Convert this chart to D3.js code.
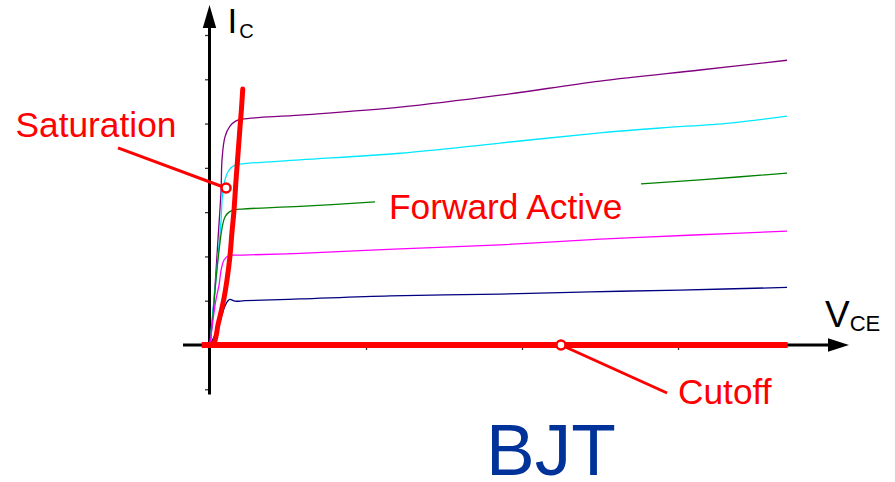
<!DOCTYPE html>
<html>
<head>
<meta charset="utf-8">
<script src="https://cdn.jsdelivr.net/npm/d3@7"></script>
<style>
  html, body { margin: 0; padding: 0; background: #fff; }
  svg { display: block; font-family: "Liberation Sans", Arial, sans-serif; }
</style>
</head>
<body>
<svg id="chart" width="895" height="482"></svg>
<script>
// ---- data (V_CE in arbitrary units, I_C in arbitrary units) ----
const xTicks = [1, 2, 3];
const yTicks = [-1, 1, 2, 3, 4, 5, 6, 7];

const curvePurple = [[0,0],[0.026,1.02],[0.051,2.37],[0.071,3.50],[0.077,4.18],[0.096,4.70],[0.128,4.94],[0.167,5.06],[0.205,5.10],[0.577,5.19],[1.218,5.37],[1.859,5.64],[2.5,5.96],[3.141,6.21],[3.699,6.43]];
const curveCyan = [[0,0],[0.019,0.79],[0.038,1.47],[0.058,2.26],[0.071,2.82],[0.080,3.39],[0.096,3.73],[0.122,3.95],[0.160,4.06],[0.205,4.09],[0.577,4.18],[1.218,4.33],[1.859,4.56],[2.5,4.79],[2.885,4.90],[3.333,5.01],[3.699,5.17]];
const curveGreen = [[0,0],[0.019,0.68],[0.038,1.47],[0.058,2.14],[0.077,2.64],[0.096,2.89],[0.122,3.00],[0.160,3.05],[0.205,3.07],[0.577,3.13],[1.058,3.23],null,[2.763,3.64],[3.141,3.73],[3.699,3.88]];
const curveMagenta = [[0,0],[0.019,0.56],[0.038,1.02],[0.058,1.35],[0.071,1.69],[0.090,1.92],[0.115,2.01],[0.160,2.03],[0.205,2.03],[0.577,2.07],[1.218,2.17],[1.859,2.26],[2.5,2.39],[3.141,2.49],[3.699,2.57]];
const curveNavy = [[0,0],[0.032,0.23],[0.058,0.45],[0.077,0.68],[0.096,0.88],[0.115,1.00],[0.128,1.03],[0.160,0.99],[0.224,1.00],[0.577,1.04],[1.154,1.11],[1.859,1.15],[2.436,1.20],[3.013,1.24],[3.699,1.30]];
const saturationCurve = [[0,0],[0.026,0.05],[0.040,0.22],[0.051,0.45],[0.071,0.75],[0.090,1.06],[0.109,1.47],[0.128,2.01],[0.141,2.55],[0.154,3.05],[0.167,3.73],[0.179,4.29],[0.192,4.90],[0.202,5.35],[0.210,5.78]];
const cutoffLine = [[-0.053,0],[3.703,0]];

const seriesColors = ["#800080", "#00e8ff", "#008000", "#ff00ff", "#000080"];
const seriesData = [curvePurple, curveCyan, curveGreen, curveMagenta, curveNavy];

// annotations: [circle point, pointer end]
const satPointer = [[0.103, 3.545], [-0.59, 4.45]];
const cutPointer = [[2.25, 0], [2.93, -1.084]];

// ---- scales ----
const x = d3.scaleLinear().domain([0, 4]).range([210, 834]);
const y = d3.scaleLinear().domain([0, 7]).range([345, 35]);

const svg = d3.select("#chart");
const RED = "#ff0000";

// ---- axes ----
svg.append("g")
  .attr("transform", `translate(${x(0)},0)`)
  .call(d3.axisLeft(y).tickValues(yTicks).tickSize(5).tickFormat(""))
  .call(g => g.select(".domain").remove())
  .call(g => g.selectAll("line").attr("stroke", "#333").attr("stroke-width", 1.3));

svg.append("g")
  .attr("transform", `translate(0,${y(0)})`)
  .call(d3.axisBottom(x).tickValues(xTicks).tickSize(5).tickFormat(""))
  .call(g => g.select(".domain").remove())
  .call(g => g.selectAll("line").attr("stroke", "#333").attr("stroke-width", 1.3));

// y axis line + arrow
svg.append("line").attr("x1", x(0) - 0.5).attr("x2", x(0) - 0.5)
  .attr("y1", y(-1.12)).attr("y2", 25).attr("stroke", "#000").attr("stroke-width", 3);
svg.append("path")
  .attr("d", `M${x(0)-0.5},5 L${x(0)-7.2},28 L${x(0)+6.2},28 Z`).attr("fill", "#000");

// x axis line + arrow
svg.append("line").attr("x1", 183).attr("x2", 830)
  .attr("y1", y(0)).attr("y2", y(0)).attr("stroke", "#000").attr("stroke-width", 3);
svg.append("path")
  .attr("d", `M849,${y(0)} L828,${y(0)-6.8} L828,${y(0)+6.8} Z`).attr("fill", "#000");

// ---- characteristic curves ----
const line = d3.line()
  .defined(d => d !== null)
  .x(d => x(d[0])).y(d => y(d[1]))
  .curve(d3.curveCatmullRom.alpha(0.5));

svg.append("g").selectAll("path")
  .data(seriesData)
  .join("path")
  .attr("d", d => line(d))
  .attr("fill", "none")
  .attr("stroke", (d, i) => seriesColors[i])
  .attr("stroke-width", 1.3);

// ---- red region lines ----
const lin = d3.line().x(d => x(d[0])).y(d => y(d[1]));
svg.append("path").attr("d", lin(cutoffLine))
  .attr("fill", "none").attr("stroke", RED).attr("stroke-width", 6);
svg.append("path").attr("d", line(saturationCurve))
  .attr("fill", "none").attr("stroke", RED).attr("stroke-width", 5)
  .attr("stroke-linecap", "round");

// pointers
[satPointer, cutPointer].forEach(p => {
  svg.append("line")
    .attr("x1", x(p[0][0])).attr("y1", y(p[0][1]))
    .attr("x2", x(p[1][0])).attr("y2", y(p[1][1]))
    .attr("stroke", RED).attr("stroke-width", 3);
  svg.append("circle")
    .attr("cx", x(p[0][0])).attr("cy", y(p[0][1])).attr("r", 4.5)
    .attr("fill", "#fff").attr("stroke", RED).attr("stroke-width", 2.5);
});

// ---- labels ----
svg.append("text").attr("x", 15.5).attr("y", 136.5).attr("font-size", 35.3)
  .attr("fill", RED).text("Saturation");
svg.append("text").attr("x", 389).attr("y", 219).attr("font-size", 35.3)
  .attr("fill", RED).text("Forward Active");
svg.append("text").attr("x", 678).attr("y", 404).attr("font-size", 35.3)
  .attr("fill", RED).text("Cutoff");
svg.append("text").attr("x", 486).attr("y", 475).attr("font-size", 73)
  .attr("fill", "#003399").text("BJT");

const ic = svg.append("text").attr("x", 227.5).attr("y", 33).attr("fill", "#000");
ic.append("tspan").attr("font-size", 35).text("I");
ic.append("tspan").attr("font-size", 20).attr("dy", 5).attr("dx", 2).text("C");

const vce = svg.append("text").attr("x", 825).attr("y", 326.5).attr("fill", "#000");
vce.append("tspan").attr("font-size", 37).text("V");
vce.append("tspan").attr("font-size", 22).attr("dy", 4.5).text("CE");
</script>
</body>
</html>
